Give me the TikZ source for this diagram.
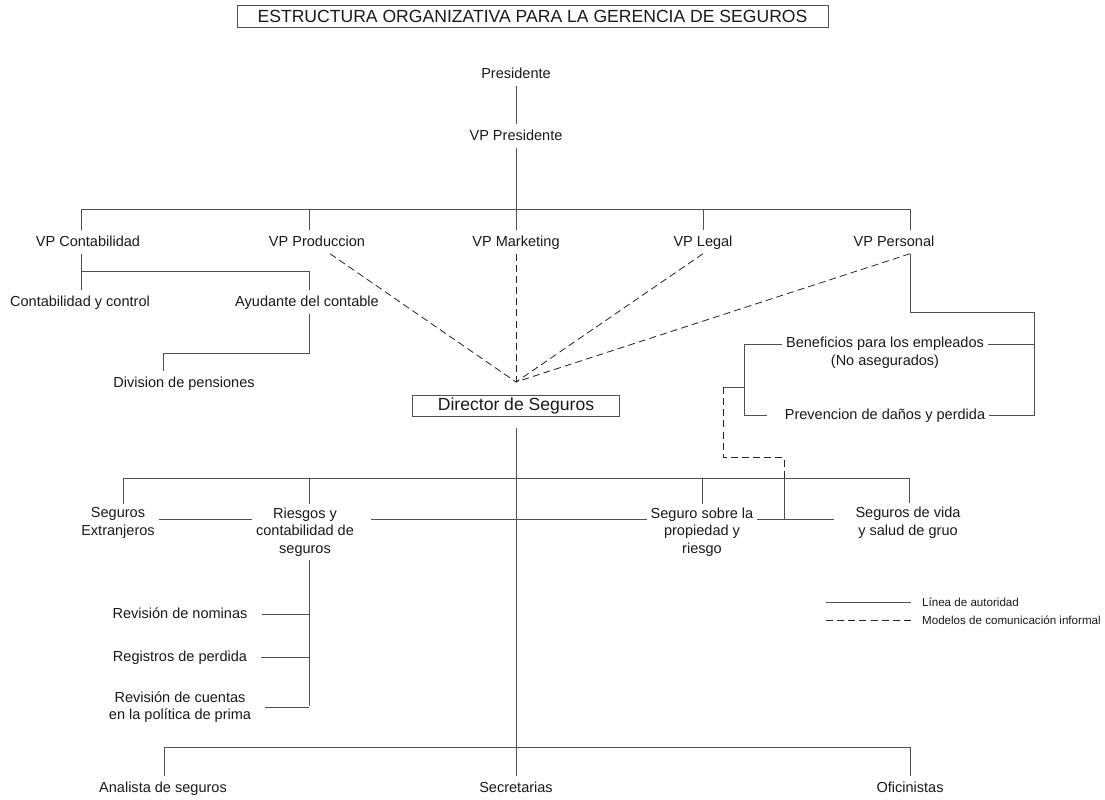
\documentclass[tikz,border=0pt]{standalone}
\usepackage{fontspec}
\setmainfont{Liberation Sans}
\definecolor{orgline}{RGB}{80,80,80}
\definecolor{orgtext}{RGB}{25,25,25}

\begin{document}
\begin{tikzpicture}[x=0.03cm, y=-0.03cm,
  unit/.style={font=\fontsize{12.4}{15}\selectfont, text=orgtext, align=center},
  oneline/.style={unit, text height=9pt, text depth=0.6pt, inner ysep=5pt},
  headbox/.style={draw=orgline, line width=0.7pt, font=\fontsize{15}{18}\selectfont, text=orgtext, inner sep=0pt},
  auth/.style={draw=orgline, line width=0.75pt},
  informal/.style={draw=black!85, line width=0.7pt, dash pattern=on 6pt off 3.5pt},
  legtext/.style={font=\fontsize{9.9}{12}\selectfont, text=orgtext, anchor=west}]
\useasboundingbox (0,0) rectangle (1105,799);
% Title
\node[headbox, minimum width=17.73cm, minimum height=0.66cm] (title) at (532.5,16) {ESTRUCTURA ORGANIZATIVA PARA LA GERENCIA DE SEGUROS};
% Top of the chart
\node[oneline] (pres) at (516,74) {Presidente};
\node[oneline] (vppres) at (516,136) {VP Presidente};
\node[oneline] (vpcont) at (88,242) {VP Contabilidad};
\node[oneline] (vpprod) at (317,242) {VP Produccion};
\node[oneline] (vpmkt) at (516,242) {VP Marketing};
\node[oneline] (vplegal) at (703,242) {VP Legal};
\node[oneline] (vppers) at (894,242) {VP Personal};
\node[oneline] (contctrl) at (80,302) {Contabilidad y control};
\node[oneline] (ayud) at (307,302) {Ayudante del contable};
\node[oneline] (divpen) at (184,383) {Division de pensiones};
\node[unit] (benef) at (885,353) {Beneficios para los empleados\\(No asegurados)};
\node[oneline] (prevdan) at (885,415) {Prevencion de daños y perdida};
% Director box
\node[headbox, minimum width=6.21cm, minimum height=0.63cm] (director) at (516,405.5) {Director de Seguros};
% Second level
\node[unit] (segext) at (118,523) {Seguros\\Extranjeros};
\node[unit] (riesgos) at (305,532) {Riesgos y\\contabilidad de\\seguros};
\node[unit] (segprop) at (702,532) {Seguro sobre la\\propiedad y\\riesgo};
\node[unit] (segvida) at (908,523) {Seguros de vida\\y salud de gruo};
\node[oneline] (revnom) at (180,614) {Revisión de nominas};
\node[oneline] (regper) at (180,657) {Registros de perdida};
\node[unit] (revcuen) at (180,707) {Revisión de cuentas\\en la política de prima};
% Bottom row
\node[oneline] (analista) at (163,788) {Analista de seguros};
\node[oneline] (secret) at (516,788) {Secretarias};
\node[oneline] (oficin) at (910,788) {Oficinistas};

% Bus corners
\coordinate (tb1) at (81,209);
\coordinate (tb2) at (309,209);
\coordinate (tb4) at (703,209);
\coordinate (tb5) at (910,209);
\coordinate (cb1) at (81,271);
\coordinate (cb2) at (309,271);
\coordinate (db1) at (309,353);
\coordinate (db2) at (163,353);
\coordinate (conv) at (516,382);
\coordinate (pb1) at (910,312);
\coordinate (pb2) at (1034,312);
\coordinate (pb3) at (1034,415);
\coordinate (pb4) at (1034,344);
\coordinate (lb1) at (744,344);
\coordinate (lb2) at (744,415);
\coordinate (lb3) at (744,387);
\coordinate (ib1) at (723,387);
\coordinate (ib2) at (723,457);
\coordinate (ib3) at (784,457);
\coordinate (ib4) at (784,478);
\coordinate (mb1) at (123,478);
\coordinate (mb2) at (309,478);
\coordinate (mb3) at (702,478);
\coordinate (mb4) at (909,478);
\coordinate (hb) at (784,519);
\coordinate (rb) at (309,706);
\coordinate (bb1) at (164,747);
\coordinate (bb2) at (910,747);

% Line of authority
\draw[auth] (pres) -- (vppres);
\draw[auth] (vppres) -- (vpmkt);
\draw[auth] (vpcont.north -| tb1) -- (tb1) -- (tb5) -- (vppers.north -| tb5);
\draw[auth] (tb2) -- (vpprod.north -| tb2);
\draw[auth] (tb4) -- (vplegal.north -| tb4);
\draw[auth] (vpcont.south -| cb1) -- (contctrl.north -| cb1);
\draw[auth] (cb1) -- (cb2) -- (ayud.north -| cb2);
\draw[auth] (ayud.south -| db1) -- (db1) -- (db2) -- (divpen.north -| db2);
\draw[auth] (vppers.south -| pb1) -- (pb1) -- (pb2) -- (pb3) -- (prevdan.east);
\draw[auth] (benef.east |- pb4) -- (pb4);
\draw[auth, shorten >=0.42cm] (benef.west |- lb1) -- (lb1) -- (lb2) -- (prevdan.west);
\draw[auth] (lb3) -- (ib1);
\draw[auth, shorten <=0.36cm] (director.south) -- (secret.north);
\draw[auth] (segext.north -| mb1) -- (mb1) -- (mb4) -- (segvida.north -| mb4);
\draw[auth] (mb2) -- (riesgos.north -| mb2);
\draw[auth] (mb3) -- (segprop.north -| mb3);
\draw[auth] (ib4) -- (hb);
\draw[auth] (segext.east |- hb) -- (riesgos.west |- hb);
\draw[auth, shorten <=0.39cm] (riesgos.east |- hb) -- (segprop.west |- hb);
\draw[auth, shorten >=0.51cm] (segprop.east |- hb) -- (segvida.west |- hb);
\draw[auth] (riesgos.south -| rb) -- (rb);
\foreach \item in {revnom,regper,revcuen} {
  \draw[auth, shorten <=0.3cm] (\item.east) -- (\item.east -| rb);
}
\draw[auth] (analista.north -| bb1) -- (bb1) -- (bb2) -- (oficin.north -| bb2);

% Informal communication
\draw[informal] ([xshift=0.39cm]vpprod.south) -- (conv);
\draw[informal] (vpmkt) -- (conv);
\draw[informal] (vplegal.south) -- (conv);
\draw[informal] (vppers.south -| tb5) -- (conv);
\draw[informal] (ib1) -- (ib2) -- (ib3) -- (ib4);

% Legend
\node[legtext] (legauth) at (918,602) {Línea de autoridad};
\node[legtext] (leginf) at (918,620) {Modelos de comunicación informal};
\coordinate (lg1) at (826,602);
\coordinate (lg2) at (826,620);
\draw[auth, shorten >=0.2cm] (lg1) -- (legauth.west);
\draw[informal, shorten >=0.2cm] (lg2) -- (leginf.west);
\end{tikzpicture}
\end{document}
